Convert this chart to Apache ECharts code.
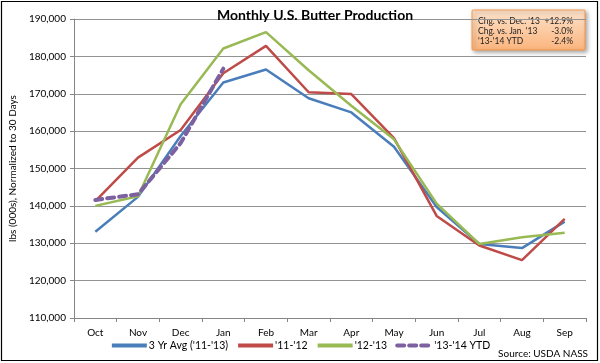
<!DOCTYPE html>
<html>
<head>
<meta charset="utf-8">
<script src="https://cdn.jsdelivr.net/npm/echarts@6/dist/echarts.min.js"></script>
<style>
html,body{margin:0;padding:0;background:#fff;}
#chart{width:600px;height:363px;}
</style>
</head>
<body>
<div id="chart"></div>
<script>
var categories = ['Oct','Nov','Dec','Jan','Feb','Mar','Apr','May','Jun','Jul','Aug','Sep'];
var avg3yr = [133100, 142400, 158700, 173000, 176500, 168800, 165000, 155800, 139700, 129800, 128700, 135800];
var y1112 = [141300, 152900, 160300, 175500, 182800, 170400, 169900, 158100, 137300, 129400, 125500, 136500];
var y1213 = [140000, 142600, 167200, 182100, 186500, 176300, 166800, 157800, 140600, 129800, 131600, 132800];
var ytd1314 = [141600, 143100, 156800, 176700, null, null, null, null, null, null, null, null];
var seriesNames = ["3 Yr Avg ('11-'13)", "'11-'12", "'12-'13", "'13-'14 YTD"];
var boxLabels = ["Chg. vs. Dec. '13", "Chg. vs. Jan. '13", "'13-'14 YTD"];
var boxValues = ["+12.9%", "-3.0%", "-2.4%"];

var FONT = 'Lato, "Open Sans", sans-serif';
var chart = echarts.init(document.getElementById('chart'), null, {renderer: 'canvas'});

var boxChildren = [{
  type: 'rect',
  shape: {x: 0, y: 0, width: 113, height: 40, r: 1},
  style: {
    fill: new echarts.graphic.LinearGradient(0, 0, 0, 1, [
      {offset: 0, color: '#fde3cc'},
      {offset: 1, color: '#fbb47c'}
    ]),
    stroke: '#f79646',
    lineWidth: 1,
    shadowBlur: 4,
    shadowOffsetX: 2,
    shadowOffsetY: 2,
    shadowColor: 'rgba(0,0,0,0.35)'
  }
}];
for (var i = 0; i < boxLabels.length; i++) {
  boxChildren.push({
    type: 'text', x: 6, y: 11 + i * 10,
    style: {text: boxLabels[i], fontSize: 8.5, fontFamily: FONT, fill: '#222', verticalAlign: 'middle'}
  });
  boxChildren.push({
    type: 'text', x: 101, y: 11 + i * 10,
    style: {text: boxValues[i], fontSize: 8.5, fontFamily: FONT, fill: '#222', verticalAlign: 'middle', align: 'right'}
  });
}

var colors = ['#4a7ebb', '#be4b48', '#98b954', '#7d60a0'];

var option = {
  animation: false,
  textStyle: {fontFamily: FONT},
  color: colors,
  title: {
    text: 'Monthly U.S. Butter Production',
    left: 310, top: 3, textAlign: 'center',
    textStyle: {fontSize: 14, fontWeight: 'bold', color: '#000', fontFamily: FONT}
  },
  grid: {left: 64, right: 14, top: 19, bottom: 45, containLabel: false},
  legend: {
    bottom: 7, left: 'center',
    itemWidth: 35, itemHeight: 6, itemGap: 8,
    itemStyle: {opacity: 0},
    lineStyle: {width: 4},
    textStyle: {fontSize: 10.5, color: '#000', fontFamily: FONT, padding: [0, 0, 0, -3]},
    data: seriesNames
  },
  xAxis: {
    type: 'category',
    data: categories,
    boundaryGap: true,
    axisLine: {lineStyle: {color: '#868686', width: 1}},
    axisTick: {show: true, length: 4, lineStyle: {color: '#868686'}},
    axisLabel: {fontSize: 10, color: '#000', margin: 10, fontFamily: FONT}
  },
  yAxis: {
    type: 'value',
    min: 110000, max: 190000, interval: 10000,
    name: 'lbs (000s), Normalized to 30 Days',
    nameLocation: 'middle', nameGap: 50, nameRotate: 90,
    nameTextStyle: {fontSize: 10, color: '#000', fontFamily: FONT},
    axisLine: {show: true, lineStyle: {color: '#868686', width: 1}},
    axisTick: {show: true, length: 4, lineStyle: {color: '#868686'}},
    splitLine: {lineStyle: {color: '#939393', width: 1}},
    axisLabel: {
      fontSize: 10, color: '#000', margin: 8, fontFamily: FONT,
      formatter: function (v) { return v.toLocaleString('en-US'); }
    }
  },
  series: [
    {name: seriesNames[0], type: 'line', data: avg3yr, symbol: 'none', lineStyle: {width: 2.5, color: colors[0]}, z: 2},
    {name: seriesNames[1], type: 'line', data: y1112, symbol: 'none', lineStyle: {width: 2.5, color: colors[1]}, z: 3},
    {name: seriesNames[2], type: 'line', data: y1213, symbol: 'none', lineStyle: {width: 2.5, color: colors[2]}, z: 4},
    {name: seriesNames[3], type: 'line', data: ytd1314, symbol: 'none', connectNulls: false,
      lineStyle: {width: 4, color: colors[3], type: [7, 5], cap: 'round'}, z: 5}
  ],
  graphic: [
    {type: 'rect', shape: {x: 1.5, y: 1.5, width: 596, height: 359}, style: {fill: 'none', stroke: '#000', lineWidth: 1.2}, z: 100},
    {type: 'group', x: 472, y: 10, children: boxChildren, z: 50},
    {type: 'text', right: 12, top: 349, style: {text: 'Source: USDA NASS', fontSize: 10, fontFamily: FONT, fill: '#000'}}
  ]
};
chart.setOption(option);
</script>
</body>
</html>
